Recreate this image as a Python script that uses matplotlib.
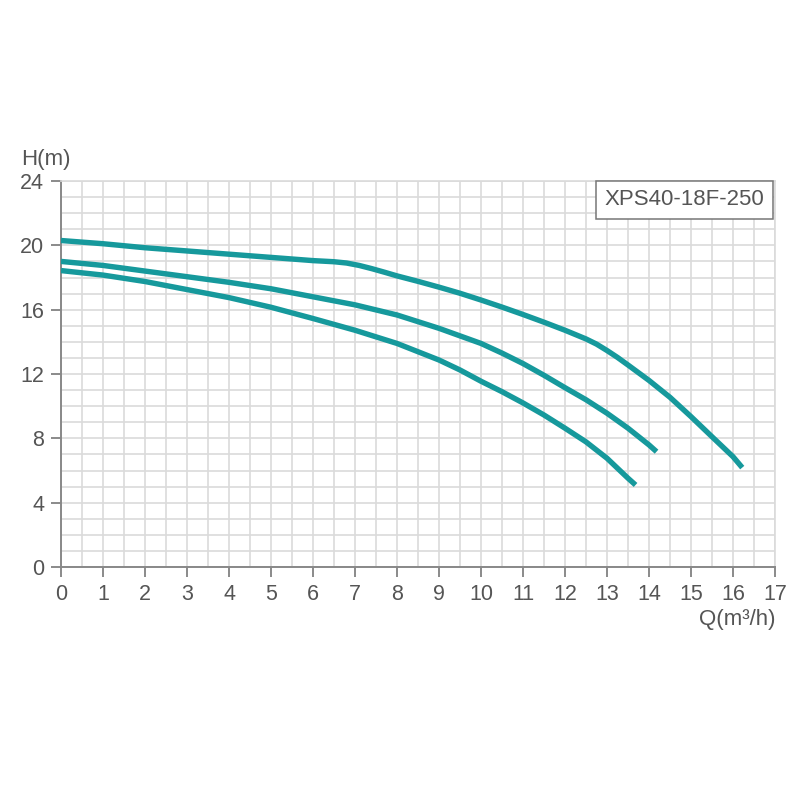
import matplotlib.pyplot as plt
import numpy as np
from matplotlib.patches import Rectangle

plt.rcParams['font.family'] = ['Liberation Sans', 'DejaVu Sans']

# pump curves, Q in m3/h, H in m
q_top = [0, 1, 2, 3, 4, 5, 6, 6.5, 6.8, 7.1, 7.4, 7.7, 8, 8.5, 9, 9.5, 10, 10.5, 11, 11.5, 12, 12.5, 12.75, 13, 13.25, 13.5, 14, 14.5, 15, 15.5, 16, 16.22]
h_top = [20.3, 20.1, 19.85, 19.65, 19.45, 19.25, 19.05, 18.98, 18.9, 18.75, 18.55, 18.33, 18.1, 17.76, 17.4, 17.02, 16.6, 16.16, 15.7, 15.22, 14.72, 14.18, 13.86, 13.46, 13.03, 12.56, 11.6, 10.55, 9.35, 8.1, 6.86, 6.18]

q_mid = [0, 1, 2, 3, 4, 5, 6, 7, 8, 9, 10, 10.5, 11, 11.5, 12, 12.5, 13, 13.5, 14, 14.18]
h_mid = [19.0, 18.75, 18.4, 18.05, 17.7, 17.3, 16.8, 16.3, 15.67, 14.84, 13.9, 13.3, 12.65, 11.92, 11.15, 10.4, 9.56, 8.63, 7.59, 7.17]

q_low = [0, 1, 2, 3, 4, 5, 6, 7, 8, 9, 9.5, 10, 10.5, 11, 11.5, 12, 12.5, 13, 13.5, 13.68]
h_low = [18.43, 18.15, 17.75, 17.25, 16.75, 16.15, 15.45, 14.72, 13.9, 12.87, 12.25, 11.55, 10.9, 10.2, 9.45, 8.63, 7.78, 6.76, 5.52, 5.1]

model = 'XPS40-18F-250'
xticks = list(range(0, 18))
yticks = [0, 4, 8, 12, 16, 20, 24]

teal = '#16999c'
grid_c = '#dadada'
text_c = '#555555'

fig = plt.figure(figsize=(8, 8), dpi=100)
ax = fig.add_axes([0.07625, 0.29125, 0.8925, 0.4825])

for q, h in [(q_top, h_top), (q_mid, h_mid), (q_low, h_low)]:
    ax.plot(q, h, color=teal, lw=3.9, solid_capstyle='butt', solid_joinstyle='round', zorder=3)

ax.set_xlim(0, 17)
ax.set_ylim(0, 24)
ax.set_xticks(xticks)
ax.set_yticks(yticks)
ax.set_xticks(np.arange(0, 17.01, 0.5), minor=True)
ax.set_yticks(np.arange(0, 24.01, 1), minor=True)
ax.grid(which='both', color=grid_c, lw=1.2, zorder=0)
ax.tick_params(which='minor', length=0)
ax.tick_params(which='major', length=7, width=1.2, color='#777777',
               labelsize=15.5, labelcolor=text_c, pad=5)

for s in ['top', 'right']:
    ax.spines[s].set_color(grid_c)
    ax.spines[s].set_linewidth(1.2)
for s in ['left', 'bottom']:
    ax.spines[s].set_color('#888888')
    ax.spines[s].set_linewidth(1.4)

# model label box in the upper right
ax.add_patch(Rectangle((0.749, 0.9016), 0.248, 0.0984, transform=ax.transAxes,
                       facecolor='white', edgecolor='#777777', lw=1.1, zorder=4, clip_on=False))
ax.text(0.873, 0.951, model, transform=ax.transAxes, ha='center', va='center',
        fontsize=16, color=text_c, zorder=5)

fig.text(21 / 800, 1 - 160 / 800, 'H(m)', ha='left', va='center', fontsize=16, color=text_c)
fig.text(775 / 800, 1 - 620 / 800, 'Q(m³/h)', ha='right', va='center', fontsize=16, color=text_c)

plt.savefig('out.png', dpi=100)
